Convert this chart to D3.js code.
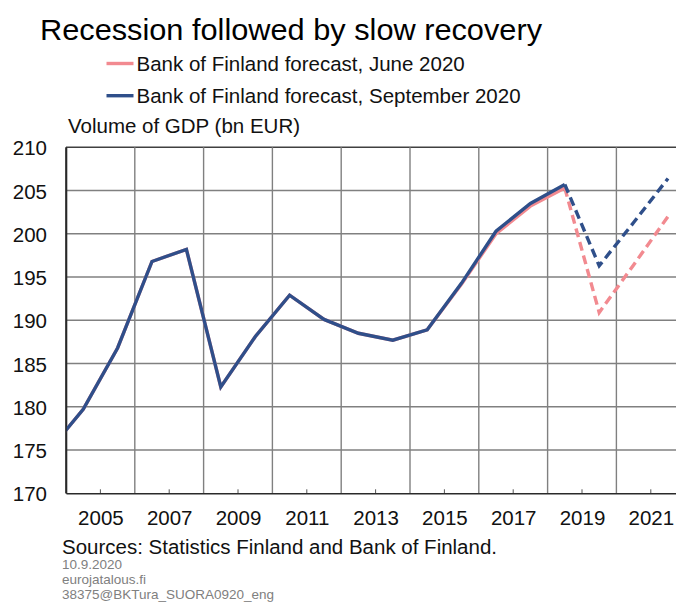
<!DOCTYPE html>
<html>
<head>
<meta charset="utf-8">
<script src="https://cdn.jsdelivr.net/npm/d3@7"></script>
<style>
  body { margin: 0; background: #fff; }
  svg { display: block; font-family: "Liberation Sans", Arial, sans-serif; }
</style>
</head>
<body>
<div id="chart"></div>
<script>
// GDP volume, bn EUR
const histYears = [2004, 2005, 2006, 2007, 2008, 2009, 2010, 2011, 2012, 2013, 2014, 2015, 2016, 2017, 2018, 2019];
const septHist = [174.9, 179.7, 186.8, 196.8, 198.2, 182.3, 188.1, 192.9, 190.1, 188.5, 187.7, 188.9, 194.3, 200.3, 203.5, 205.7];
const juneHist = [174.9, 179.7, 186.8, 196.8, 198.2, 182.3, 188.1, 192.9, 190.1, 188.5, 187.7, 188.9, 194.2, 200.0, 203.2, 205.3];
const forecastYears = [2019, 2020, 2021, 2022];
const septForecast = [205.7, 196.3, 201.3, 206.4];
const juneForecast = [205.3, 190.9, 196.4, 202.0];
const yTicks = [170, 175, 180, 185, 190, 195, 200, 205, 210];
const xLabels = [2005, 2007, 2009, 2011, 2013, 2015, 2017, 2019, 2021];
const xGrid = [2006, 2008, 2010, 2012, 2014, 2016, 2018, 2020];

const pink = "#f28a90";
const blue = "#2f4f8a";

const W = 676, H = 603;
const margin = {top: 147.3, left: 66};
const plotW = 619.2, plotH = 346;

const svg = d3.select("#chart").append("svg")
    .attr("width", W)
    .attr("height", H);

// x: data point for year Y sits at Y, labels sit half a year later
const x = d3.scaleLinear()
    .domain([2004.5, 2022.5])
    .range([margin.left, margin.left + plotW]);
const y = d3.scaleLinear()
    .domain([170, 210])
    .range([margin.top + plotH, margin.top]);

// grid
svg.append("g")
    .selectAll("line.h")
    .data(yTicks.slice(1))
    .join("line")
    .attr("x1", margin.left).attr("x2", margin.left + plotW)
    .attr("y1", d => y(d)).attr("y2", d => y(d))
    .attr("stroke", d => d === 210 ? "#404040" : "#808080")
    .attr("stroke-width", 1.4);
svg.append("g")
    .selectAll("line")
    .data(xGrid)
    .join("line")
    .attr("x1", d => x(d + 0.5)).attr("x2", d => x(d + 0.5))
    .attr("y1", margin.top).attr("y2", margin.top + plotH)
    .attr("stroke", "#808080")
    .attr("stroke-width", 1.4);

// minor ticks at label positions
svg.append("g")
    .selectAll("line")
    .data(xLabels)
    .join("line")
    .attr("x1", d => x(d + 0.5)).attr("x2", d => x(d + 0.5))
    .attr("y1", margin.top + plotH - 4).attr("y2", margin.top + plotH)
    .attr("stroke", "#555")
    .attr("stroke-width", 1);

// axes
const yAxis = svg.append("g")
    .attr("transform", `translate(${margin.left},0)`)
    .call(d3.axisLeft(y).tickValues(yTicks).tickSize(0).tickPadding(19));
const xAxis = svg.append("g")
    .attr("transform", `translate(0,${margin.top + plotH})`)
    .call(d3.axisBottom(x).tickValues(xLabels.map(d => d + 0.5))
        .tickFormat(d => String(Math.floor(d))).tickSize(0).tickPadding(17));
[yAxis, xAxis].forEach(a => {
    a.select(".domain").attr("stroke", "#2a2a2a").attr("stroke-width", 1.6);
    a.selectAll("text").attr("font-size", "20.5px").attr("fill", "#111")
        .attr("font-family", "'Liberation Sans', Arial, sans-serif");
});
yAxis.selectAll("text").attr("dy", "0.37em");

// lines
svg.append("clipPath").attr("id", "plot")
    .append("rect")
    .attr("x", margin.left).attr("y", margin.top - 5)
    .attr("width", plotW).attr("height", plotH + 5);

const line = d3.line()
    .x(d => x(d[0]))
    .y(d => y(d[1]));
const lines = svg.append("g").attr("clip-path", "url(#plot)");

const series = [
    {years: histYears, vals: juneHist, color: pink, dash: null},
    {years: forecastYears, vals: juneForecast, color: pink, dash: "9,5"},
    {years: histYears, vals: septHist, color: blue, dash: null},
    {years: forecastYears, vals: septForecast, color: blue, dash: "9,5"}
];
series.forEach(s => {
    lines.append("path")
        .datum(s.years.map((yr, i) => [yr, s.vals[i]]))
        .attr("fill", "none")
        .attr("stroke", s.color)
        .attr("stroke-width", 3.4)
        .attr("stroke-linejoin", "miter")
        .attr("stroke-dasharray", s.dash)
        .attr("d", line);
});

// redraw left border over the lines
svg.append("line")
    .attr("x1", margin.left).attr("x2", margin.left)
    .attr("y1", margin.top).attr("y2", margin.top + plotH)
    .attr("stroke", "#2a2a2a").attr("stroke-width", 1.6);

// title & legend
svg.append("text")
    .attr("x", 40).attr("y", 39.5)
    .attr("font-size", "30px")
    .attr("textLength", 502)
    .attr("lengthAdjust", "spacingAndGlyphs")
    .attr("fill", "#000")
    .text("Recession followed by slow recovery");

const legend = [
    {label: "Bank of Finland forecast, June 2020", color: pink, y: 63.5},
    {label: "Bank of Finland forecast, September 2020", color: blue, y: 95.7}
];
legend.forEach(l => {
    svg.append("line")
        .attr("x1", 106.5).attr("x2", 133.5)
        .attr("y1", l.y).attr("y2", l.y)
        .attr("stroke", l.color).attr("stroke-width", 3.4);
    svg.append("text")
        .attr("x", 136.5).attr("y", l.y + 7.2)
        .attr("font-size", "20.5px")
        .attr("fill", "#111")
        .text(l.label);
});

svg.append("text")
    .attr("x", 68).attr("y", 133.3)
    .attr("font-size", "20.5px")
    .attr("fill", "#111")
    .text("Volume of GDP (bn EUR)");

// sources
svg.append("text")
    .attr("x", 62).attr("y", 553.5)
    .attr("font-size", "20px")
    .attr("textLength", 435)
    .attr("lengthAdjust", "spacingAndGlyphs")
    .attr("fill", "#111")
    .text("Sources: Statistics Finland and Bank of Finland.");

const notes = ["10.9.2020", "eurojatalous.fi", "38375@BKTura_SUORA0920_eng"];
svg.append("g")
    .selectAll("text")
    .data(notes)
    .join("text")
    .attr("x", 62)
    .attr("y", (d, i) => 569 + i * 15)
    .attr("font-size", "13.5px")
    .attr("fill", "#808080")
    .text(d => d);
</script>
</body>
</html>
